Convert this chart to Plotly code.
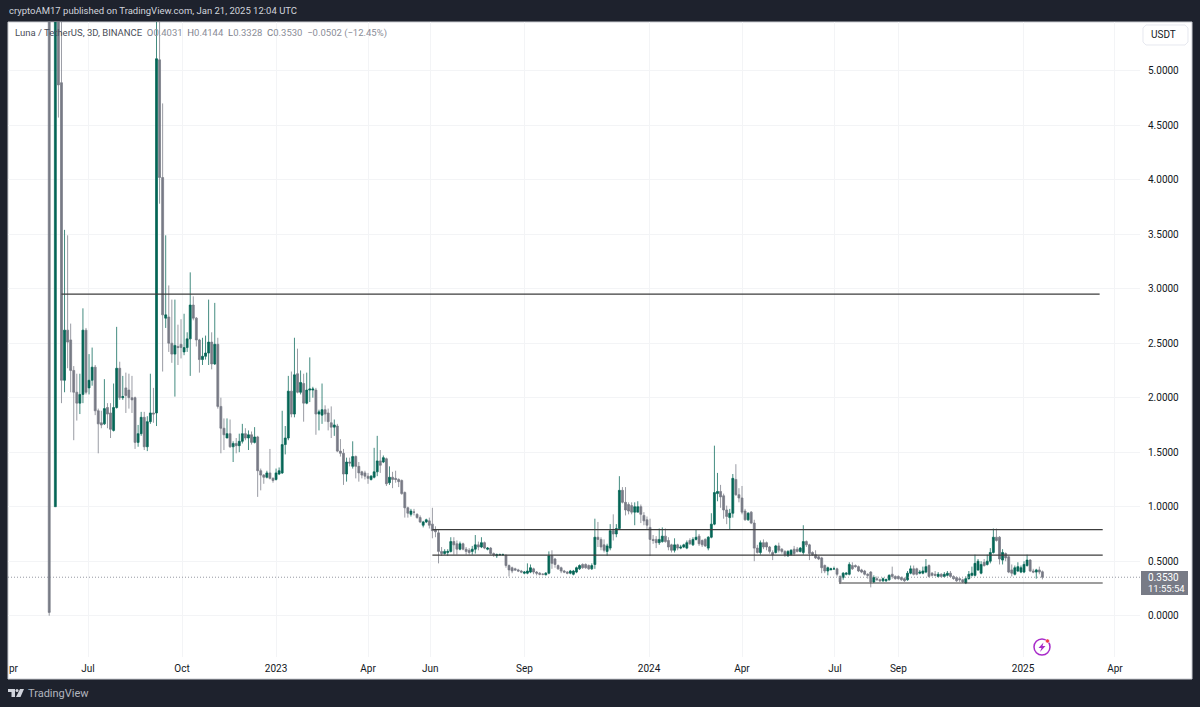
import pandas as pd
import plotly.graph_objects as go

# 3D candles. Index 1 has no visible candle.
opens = [
    9.0, None, 1.0, 8.0, 4.89, 2.16, 2.62, 2.53, 2.25, 2.05,
    1.95, 2.03, 2.62, 2.09, 2.16, 2.28, 1.88, 1.77, 1.76, 1.91,
    1.86, 1.70, 1.91, 2.27, 2.00, 2.09, 2.07, 2.00, 2.00, 1.59,
    1.67, 1.82, 1.55, 1.78, 1.86, 1.86, 5.10, 4.02, 2.73, 2.74,
    2.50, 2.40, 2.47, 2.49, 2.42, 2.46, 2.54, 2.85, 2.73, 2.53,
    2.35, 2.38, 2.41, 2.51, 2.31, 2.49, 1.92, 1.72, 1.63, 1.67,
    1.55, 1.58, 1.56, 1.60, 1.67, 1.63, 1.66, 1.59, 1.64, 1.33,
    1.29, 1.27, 1.31, 1.26, 1.25, 1.30, 1.31, 1.57, 1.63, 2.06,
    1.85, 2.22, 2.05, 2.13, 1.95, 2.07, 2.07, 2.07, 1.85, 1.84,
    1.89, 1.86, 1.77, 1.73, 1.74, 1.51, 1.49, 1.30, 1.41, 1.37,
    1.46, 1.37, 1.32, 1.31, 1.28, 1.25, 1.27, 1.32, 1.42, 1.41,
    1.44, 1.22, 1.27, 1.26, 1.25, 1.24, 1.13, 0.99, 0.93, 0.95,
    0.93, 0.90, 0.83, 0.86, 0.87, 0.84, 0.79, 0.76, 0.59, 0.57,
    0.58, 0.59, 0.68, 0.66, 0.61, 0.66, 0.61, 0.60, 0.59, 0.61,
    0.65, 0.63, 0.67, 0.61, 0.62, 0.57, 0.55, 0.56, 0.56, 0.555,
    0.46, 0.44, 0.43, 0.42, 0.41, 0.39, 0.39, 0.40, 0.43, 0.40,
    0.39, 0.38, 0.375, 0.39, 0.55, 0.52, 0.46, 0.44, 0.41, 0.40,
    0.39, 0.38, 0.40, 0.43, 0.47, 0.47, 0.46, 0.43, 0.47, 0.72,
    0.70, 0.65, 0.59, 0.62, 0.78, 0.75, 0.80, 1.15, 1.04, 1.02,
    1.01, 0.95, 0.95, 1.00, 0.92, 0.88, 0.81, 0.70, 0.70, 0.67,
    0.68, 0.73, 0.69, 0.65, 0.60, 0.65, 0.62, 0.63, 0.62, 0.69,
    0.65, 0.70, 0.73, 0.69, 0.70, 0.62, 0.72, 0.84, 1.12, 1.14,
    1.10, 0.97, 0.90, 0.94, 1.25, 1.11, 1.08, 0.96, 0.88, 0.95,
    0.85, 0.62, 0.58, 0.67, 0.67, 0.63, 0.58, 0.58, 0.64, 0.61,
    0.59, 0.55, 0.56, 0.61, 0.61, 0.59, 0.58, 0.68, 0.65, 0.58,
    0.56, 0.54, 0.53, 0.46, 0.41, 0.42, 0.43, 0.43, 0.36, 0.35,
    0.38, 0.38, 0.46, 0.46, 0.45, 0.42, 0.41, 0.38, 0.40, 0.31,
    0.34, 0.33, 0.32, 0.32, 0.33, 0.38, 0.36, 0.36, 0.35, 0.34,
    0.33, 0.39, 0.43, 0.43, 0.39, 0.39, 0.40, 0.46, 0.39, 0.38,
    0.36, 0.38, 0.36, 0.37, 0.39, 0.36, 0.35, 0.34, 0.33, 0.30,
    0.34, 0.37, 0.37, 0.42, 0.39, 0.49, 0.47, 0.50, 0.58, 0.72,
    0.72, 0.51, 0.57, 0.54, 0.42, 0.38, 0.41, 0.40, 0.40, 0.46,
    0.51, 0.41, 0.40, 0.42, 0.4031,
]
highs = [
    12.0, None, 12.0, 12.0, 6.0, 3.54, 3.49, 2.68, 2.29, 2.22,
    2.22, 2.82, 2.64, 2.40, 2.46, 2.30, 1.90, 1.88, 2.17, 1.95,
    1.95, 2.13, 2.65, 2.33, 2.20, 2.23, 2.22, 2.20, 2.01, 1.75,
    1.87, 1.87, 1.83, 2.22, 2.09, 8.0, 7.0, 4.70, 3.49, 3.03,
    2.90, 2.90, 2.67, 2.72, 2.77, 2.60, 3.15, 2.93, 2.74, 2.54,
    2.55, 2.57, 2.90, 2.60, 2.87, 2.55, 2.00, 1.81, 1.81, 1.80,
    1.60, 1.63, 1.67, 1.76, 1.72, 1.70, 1.69, 1.73, 1.65, 1.35,
    1.30, 1.33, 1.53, 1.27, 1.35, 1.36, 1.88, 1.74, 2.20, 2.24,
    2.55, 2.45, 2.25, 2.22, 2.23, 2.37, 2.10, 2.09, 1.89, 2.13,
    1.93, 1.90, 1.92, 1.80, 1.76, 1.62, 1.53, 1.45, 1.45, 1.60,
    1.47, 1.41, 1.33, 1.33, 1.31, 1.29, 1.54, 1.65, 1.52, 1.47,
    1.45, 1.37, 1.32, 1.33, 1.26, 1.25, 1.14, 1.00, 0.98, 0.98,
    0.94, 0.92, 0.87, 0.89, 0.90, 0.99, 0.82, 0.79, 0.63, 0.61,
    0.61, 0.72, 0.72, 0.69, 0.68, 0.67, 0.63, 0.62, 0.64, 0.74,
    0.68, 0.72, 0.68, 0.63, 0.63, 0.58, 0.57, 0.57, 0.57, 0.56,
    0.47, 0.45, 0.44, 0.43, 0.42, 0.41, 0.48, 0.47, 0.44, 0.41,
    0.40, 0.39, 0.40, 0.59, 0.60, 0.53, 0.47, 0.45, 0.42, 0.41,
    0.42, 0.42, 0.45, 0.47, 0.48, 0.48, 0.47, 0.48, 0.89, 0.86,
    0.72, 0.70, 0.66, 0.84, 0.93, 0.84, 1.28, 1.18, 1.18, 1.04,
    1.04, 1.04, 1.05, 1.02, 0.95, 0.91, 0.89, 0.74, 0.73, 0.80,
    0.81, 0.80, 0.72, 0.66, 0.71, 0.66, 0.65, 0.66, 0.69, 0.71,
    0.72, 0.79, 0.75, 0.70, 0.71, 0.73, 0.94, 1.56, 1.31, 1.20,
    1.12, 1.01, 0.98, 1.30, 1.39, 1.17, 1.19, 0.98, 0.95, 0.96,
    0.88, 0.65, 0.69, 0.70, 0.68, 0.64, 0.60, 0.65, 0.67, 0.62,
    0.60, 0.60, 0.61, 0.64, 0.63, 0.63, 0.83, 0.69, 0.66, 0.59,
    0.60, 0.55, 0.54, 0.47, 0.45, 0.44, 0.45, 0.44, 0.37, 0.40,
    0.40, 0.49, 0.49, 0.47, 0.46, 0.43, 0.42, 0.39, 0.41, 0.37,
    0.36, 0.34, 0.35, 0.34, 0.38, 0.45, 0.37, 0.37, 0.36, 0.35,
    0.41, 0.46, 0.46, 0.44, 0.42, 0.45, 0.52, 0.47, 0.40, 0.41,
    0.40, 0.39, 0.40, 0.41, 0.41, 0.37, 0.36, 0.35, 0.34, 0.36,
    0.41, 0.45, 0.56, 0.52, 0.50, 0.52, 0.56, 0.62, 0.80, 0.80,
    0.73, 0.61, 0.58, 0.55, 0.47, 0.46, 0.49, 0.46, 0.50, 0.56,
    0.52, 0.43, 0.43, 0.45, 0.4144,
]
lows = [
    0.0, None, 1.0, 4.57, 1.95, 2.05, 2.27, 2.05, 1.61, 1.79,
    1.85, 1.95, 2.03, 2.03, 2.11, 1.84, 1.49, 1.72, 1.75, 1.72,
    1.63, 1.69, 1.90, 1.98, 1.98, 1.86, 1.90, 1.86, 1.53, 1.55,
    1.65, 1.52, 1.51, 1.76, 1.77, 1.74, 3.78, 2.24, 2.64, 2.42,
    2.32, 2.01, 2.30, 2.36, 2.39, 2.42, 2.20, 2.71, 2.47, 2.23,
    2.30, 2.35, 2.30, 2.26, 2.30, 1.90, 1.49, 1.52, 1.63, 1.54,
    1.41, 1.49, 1.50, 1.58, 1.61, 1.52, 1.57, 1.58, 1.09, 1.15,
    1.21, 1.26, 1.25, 1.22, 1.24, 1.29, 1.30, 1.48, 1.61, 1.82,
    1.82, 2.04, 2.03, 1.78, 1.94, 1.96, 2.00, 1.66, 1.70, 1.76,
    1.78, 1.70, 1.63, 1.65, 1.50, 1.46, 1.20, 1.23, 1.37, 1.35,
    1.26, 1.23, 1.26, 1.25, 1.21, 1.24, 1.26, 1.28, 1.31, 1.40,
    1.19, 1.20, 1.17, 1.22, 1.18, 1.11, 0.90, 0.90, 0.91, 0.92,
    0.89, 0.85, 0.81, 0.85, 0.80, 0.71, 0.72, 0.48, 0.55, 0.56,
    0.55, 0.58, 0.56, 0.56, 0.60, 0.60, 0.56, 0.56, 0.56, 0.57,
    0.60, 0.62, 0.61, 0.60, 0.56, 0.54, 0.53, 0.55, 0.55, 0.44,
    0.36, 0.39, 0.41, 0.40, 0.39, 0.38, 0.38, 0.39, 0.38, 0.37,
    0.37, 0.37, 0.37, 0.38, 0.43, 0.44, 0.42, 0.39, 0.39, 0.38,
    0.38, 0.37, 0.39, 0.42, 0.43, 0.43, 0.42, 0.42, 0.43, 0.63,
    0.60, 0.58, 0.55, 0.60, 0.69, 0.72, 0.79, 1.03, 0.92, 0.93,
    0.93, 0.83, 0.95, 0.85, 0.83, 0.79, 0.55, 0.66, 0.62, 0.65,
    0.67, 0.67, 0.60, 0.58, 0.58, 0.60, 0.61, 0.62, 0.61, 0.65,
    0.64, 0.69, 0.64, 0.63, 0.63, 0.60, 0.71, 0.83, 1.05, 0.99,
    0.89, 0.84, 0.79, 0.90, 1.10, 1.04, 0.93, 0.87, 0.87, 0.84,
    0.50, 0.57, 0.56, 0.61, 0.60, 0.57, 0.51, 0.57, 0.58, 0.57,
    0.54, 0.54, 0.55, 0.55, 0.58, 0.58, 0.56, 0.63, 0.51, 0.55,
    0.52, 0.51, 0.39, 0.39, 0.37, 0.42, 0.42, 0.36, 0.29, 0.33,
    0.37, 0.37, 0.42, 0.44, 0.40, 0.39, 0.37, 0.34, 0.26, 0.30,
    0.32, 0.31, 0.31, 0.31, 0.32, 0.34, 0.33, 0.33, 0.32, 0.31,
    0.32, 0.38, 0.37, 0.37, 0.38, 0.38, 0.39, 0.35, 0.36, 0.36,
    0.35, 0.35, 0.35, 0.36, 0.35, 0.33, 0.31, 0.31, 0.30, 0.29,
    0.33, 0.36, 0.36, 0.41, 0.38, 0.45, 0.46, 0.48, 0.57, 0.68,
    0.47, 0.47, 0.50, 0.39, 0.36, 0.37, 0.40, 0.39, 0.39, 0.45,
    0.40, 0.39, 0.34, 0.38, 0.3328,
]
closes = [
    0.03, None, 8.0, 4.87, 2.16, 2.62, 2.51, 2.25, 2.05, 1.95,
    2.03, 2.62, 2.05, 2.16, 2.28, 1.88, 1.76, 1.75, 1.90, 1.85,
    1.71, 1.91, 2.27, 2.00, 2.01, 2.02, 2.00, 1.98, 1.59, 1.67,
    1.82, 1.55, 1.78, 1.86, 1.85, 5.11, 4.02, 2.76, 2.76, 2.50,
    2.40, 2.48, 2.46, 2.46, 2.46, 2.54, 2.85, 2.73, 2.53, 2.35,
    2.38, 2.41, 2.51, 2.31, 2.49, 1.92, 1.72, 1.66, 1.67, 1.55,
    1.58, 1.56, 1.60, 1.67, 1.63, 1.66, 1.59, 1.64, 1.33, 1.29,
    1.27, 1.31, 1.26, 1.24, 1.31, 1.33, 1.57, 1.63, 2.06, 1.85,
    2.21, 2.05, 2.14, 1.95, 2.07, 2.08, 2.08, 1.85, 1.87, 1.89,
    1.85, 1.78, 1.73, 1.75, 1.51, 1.49, 1.30, 1.41, 1.40, 1.46,
    1.37, 1.31, 1.29, 1.28, 1.26, 1.28, 1.32, 1.42, 1.38, 1.45,
    1.21, 1.27, 1.25, 1.25, 1.23, 1.12, 0.99, 0.94, 0.96, 0.95,
    0.90, 0.86, 0.86, 0.88, 0.83, 0.78, 0.77, 0.59, 0.57, 0.59,
    0.59, 0.68, 0.65, 0.61, 0.66, 0.61, 0.59, 0.58, 0.61, 0.65,
    0.63, 0.67, 0.62, 0.62, 0.57, 0.56, 0.56, 0.56, 0.56, 0.46,
    0.42, 0.41, 0.42, 0.41, 0.40, 0.40, 0.41, 0.44, 0.40, 0.39,
    0.38, 0.38, 0.39, 0.55, 0.48, 0.47, 0.43, 0.41, 0.40, 0.39,
    0.41, 0.41, 0.44, 0.46, 0.44, 0.44, 0.43, 0.46, 0.72, 0.70,
    0.63, 0.60, 0.64, 0.78, 0.75, 0.80, 1.15, 1.04, 0.97, 0.96,
    0.95, 1.00, 1.00, 0.93, 0.87, 0.83, 0.70, 0.69, 0.67, 0.70,
    0.73, 0.68, 0.63, 0.60, 0.65, 0.62, 0.63, 0.65, 0.67, 0.66,
    0.70, 0.72, 0.66, 0.65, 0.64, 0.72, 0.84, 1.13, 1.14, 1.09,
    0.97, 0.91, 0.94, 1.26, 1.11, 1.08, 0.95, 0.88, 0.94, 0.85,
    0.62, 0.58, 0.67, 0.63, 0.63, 0.59, 0.56, 0.64, 0.60, 0.59,
    0.56, 0.59, 0.60, 0.57, 0.59, 0.62, 0.68, 0.65, 0.57, 0.56,
    0.53, 0.52, 0.44, 0.41, 0.44, 0.43, 0.43, 0.38, 0.31, 0.39,
    0.39, 0.47, 0.43, 0.45, 0.41, 0.40, 0.38, 0.37, 0.31, 0.35,
    0.33, 0.32, 0.34, 0.33, 0.37, 0.36, 0.34, 0.34, 0.33, 0.32,
    0.39, 0.43, 0.38, 0.38, 0.40, 0.41, 0.45, 0.36, 0.37, 0.37,
    0.38, 0.36, 0.38, 0.39, 0.36, 0.34, 0.32, 0.33, 0.31, 0.34,
    0.38, 0.39, 0.48, 0.50, 0.47, 0.46, 0.50, 0.58, 0.72, 0.69,
    0.52, 0.58, 0.53, 0.40, 0.39, 0.44, 0.45, 0.44, 0.47, 0.51,
    0.41, 0.40, 0.42, 0.40, 0.3530,
]
dates = pd.date_range(end="2025-01-20", periods=len(closes), freq="3D")

# drawn trend lines
level_prices = [2.95, 0.79, 0.555, 0.30]
level_starts = ["2022-06-05", "2023-06-03", "2023-06-03", "2024-07-05"]
level_ends = ["2025-03-17", "2025-03-20", "2025-03-20", "2025-03-20"]

last_price = 0.3530
x_range = ["2022-04-13 16:00", "2025-04-25 12:00"]
y_range = [-0.379, 5.447]

price_ticks = [0, 0.5, 1, 1.5, 2, 2.5, 3, 3.5, 4, 4.5, 5]
time_ticks = ["2022-07-01", "2022-10-01", "2023-01-01", "2023-04-01", "2023-06-01", "2023-09-01",
              "2024-01-01", "2024-04-01", "2024-07-01", "2024-09-01", "2025-01-01", "2025-04-01"]
time_labels = ["Jul", "Oct", "2023", "Apr", "Jun", "Sep", "2024", "Apr", "Jul", "Sep", "2025", "Apr"]

UP = "#056656"
DOWN = "#787b86"
DARK = "#1e222d"
FONT = "Roboto"

# plot area in pixels
L, R, T, B = 8, 1140, 22, 657


def px(x):
    return (x - L) / (R - L)


def py(y):
    return (B - y) / (B - T)


def path(points, close=True):
    s = "M" + " L".join(f"{px(x):.5f} {py(y):.5f}" for x, y in points)
    return s + (" Z" if close else "")


def box(x0, y0, x1, y1, **kw):
    return dict(type="rect", xref="paper", yref="paper", x0=px(x0), x1=px(x1), y0=py(y0), y1=py(y1), **kw)


def label(x, y, text, color="#131722", size=10, anchor="left"):
    return dict(xref="paper", yref="paper", x=px(x), y=py(y), text=text, showarrow=False,
                xanchor=anchor, yanchor="middle", borderpad=0, font=dict(family=FONT, size=size, color=color))


fig = go.Figure()
fig.add_trace(go.Candlestick(
    x=dates, open=opens, high=highs, low=lows, close=closes,
    increasing=dict(line=dict(color="rgba(5,102,86,0.75)", width=1), fillcolor=UP),
    decreasing=dict(line=dict(color="rgba(120,123,134,0.75)", width=1), fillcolor=DOWN),
    whiskerwidth=0,
))

for price, start, end in zip(level_prices, level_starts, level_ends):
    fig.add_trace(go.Scatter(x=[start, end], y=[price, price], mode="lines",
                             line=dict(color="#3c3c3c", width=1.2)))

fig.add_trace(go.Scatter(x=x_range, y=[last_price, last_price], mode="lines",
                         line=dict(color="#9598a1", width=1, dash="1px,2px")))

shapes = [
    box(8, 22, 1192, 679, fillcolor="white", line=dict(color="#c9cbd1", width=1), layer="below"),
    # USDT button
    dict(type="path", xref="paper", yref="paper", layer="above", fillcolor="white",
         line=dict(color="#e6e8ef", width=1),
         path=path([(1146, 25), (1185, 25), (1188, 28), (1188, 42), (1185, 45),
                    (1146, 45), (1143, 42), (1143, 28)])),
    # last price box
    box(1141, 571, 1188, 595, fillcolor=DOWN, line=dict(width=0)),
    # TradingView logo
    dict(type="path", xref="paper", yref="paper", fillcolor="#d1d4dc", line=dict(width=0),
         path=path([(8, 689), (15, 689), (15, 697), (11.5, 697), (11.5, 692), (8, 692)])),
    dict(type="circle", xref="paper", yref="paper", x0=px(15.5), x1=px(18.5), y0=py(692), y1=py(689),
         fillcolor="#d1d4dc", line=dict(width=0)),
    dict(type="path", xref="paper", yref="paper", fillcolor="#d1d4dc", line=dict(width=0),
         path=path([(20, 689), (24, 689), (20.5, 697), (16, 697)])),
    # lightning badge
    dict(type="circle", xref="paper", yref="paper", x0=px(1034), x1=px(1050), y0=py(655), y1=py(639),
         line=dict(color="#a82bc9", width=1.5), fillcolor="white"),
    dict(type="path", xref="paper", yref="paper", fillcolor="#a82bc9", line=dict(width=0),
         path=path([(1043.5, 642.5), (1038.5, 648), (1041.5, 648), (1040, 652), (1045.5, 646),
                    (1042.5, 646)])),
    dict(type="circle", xref="paper", yref="paper", x0=px(1045.5), x1=px(1049.5), y0=py(643), y1=py(639),
         fillcolor="#f23645", line=dict(color="white", width=0.5)),
]

legend_text = ('Luna / TetherUS, 3D, BINANCE  '
               '<span style="color:#787b86">O</span><span style="color:#8a8d97">0.4031</span>  '
               '<span style="color:#787b86">H</span><span style="color:#8a8d97">0.4144</span>  '
               '<span style="color:#787b86">L</span><span style="color:#8a8d97">0.3328</span>  '
               '<span style="color:#787b86">C</span><span style="color:#8a8d97">0.3530</span>  '
               '<span style="color:#8a8d97">\u22120.0502 (\u221212.45%)</span>')

annotations = [
    label(8, 11, "cryptoAM17 published on TradingView.com, Jan 21, 2025 12:04 UTC", color="#d1d4dc", size=9.5),
    label(14, 33, legend_text, color="#4a4e59", size=9.5),
    label(1150, 35, "USDT", size=10),
    label(1147, 577.5, "0.3530", color="white", size=10),
    label(1147, 588.5, "11:55:54", color="white", size=9.5),
    label(8, 668, "pr", size=10),
    label(27, 693, "TradingView", color="#b2b5be", size=11),
]

fig.update_layout(
    width=1200,
    height=707,
    autosize=False,
    showlegend=False,
    paper_bgcolor=DARK,
    plot_bgcolor="white",
    margin=dict(l=L, r=1200 - R, t=T, b=707 - B, pad=0),
    shapes=shapes,
    annotations=annotations,
    boxgap=0.1,
    font=dict(family=FONT, size=10, color="#131722"),
    xaxis=dict(
        type="date",
        range=x_range,
        rangeslider=dict(visible=False),
        tickmode="array",
        tickvals=time_ticks,
        ticktext=time_labels,
        tickangle=0,
        showgrid=True,
        gridcolor="#f3f4f6",
        gridwidth=1,
        showline=False,
        zeroline=False,
        ticks="",
        ticklabelstandoff=4,
    ),
    yaxis=dict(
        side="right",
        range=y_range,
        tickmode="array",
        tickvals=price_ticks,
        tickformat=".4f",
        showgrid=True,
        gridcolor="#f3f4f6",
        gridwidth=1,
        showline=False,
        zeroline=False,
        ticks="",
        ticklabelstandoff=7,
    ),
)

fig.write_html("out.html", config=dict(displayModeBar=False), post_script="document.body.style.margin='0';")
